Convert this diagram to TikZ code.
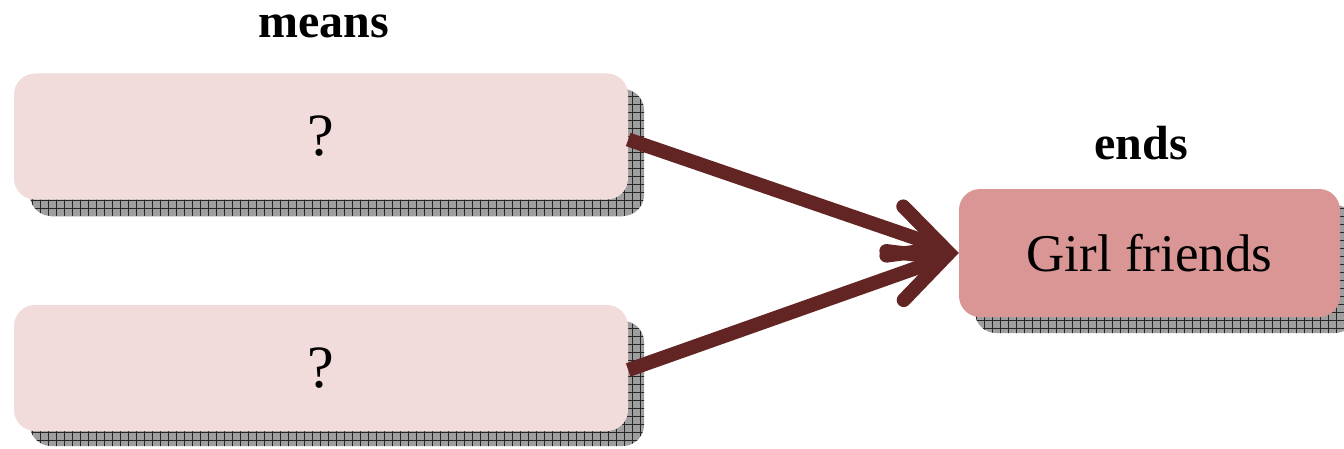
\documentclass[tikz,border=0pt]{standalone}
\usepackage{fontspec}
\setmainfont{Liberation Serif}
\usetikzlibrary{arrows.meta,patterns.meta}
\definecolor{pinklight}{HTML}{F2DCDB}
\definecolor{pinkdark}{HTML}{D99694}
\definecolor{arrowred}{HTML}{632523}
\tikzset{
  meansbox/.style={rectangle, rounded corners=21pt, fill=pinklight, minimum width=614pt, minimum height=126pt, inner sep=0pt, font=\fontsize{60}{66}\selectfont},
  endsbox/.style={rectangle, rounded corners=21pt, fill=pinkdark, minimum width=381pt, minimum height=128pt, inner sep=0pt, font=\fontsize{53}{60}\selectfont},
  shadowfill/.style={rounded corners=21pt, preaction={fill=black!38}, pattern={Hatch[angle=0,distance=8pt,line width=0.7pt]}, pattern color=black!85},
  headlabel/.style={font=\bfseries\fontsize{48}{54}\selectfont, anchor=base, inner sep=0pt},
  arr/.style={draw=arrowred, line width=14pt, -{Straight Barb[length=52pt, width=52pt, line cap=round, line join=miter]}}
}
\begin{document}
\begin{tikzpicture}[x=1pt,y=1pt]
\useasboundingbox (0,0) rectangle (1344,448);
% shadows
\path[shadowfill] (30,232) rectangle (644,359);
\path[shadowfill] (30,2) rectangle (644,127);
\path[shadowfill] (975,115) rectangle (1356,243);
% boxes
\node[meansbox] (m1) at (321,311.5) {?};
\node[meansbox] (m2) at (321,80) {?};
\node[endsbox] (gf) at (1149.5,195) {Girl friends};
% labels
\node[headlabel] (means) at (324,410) {means};
\node[headlabel] (ends) at (1141,288) {ends};
% arrows
\draw[arr] ([yshift=-3pt]m1.east) -- (gf.west);
\draw[arr] ([yshift=-2pt]m2.east) -- (gf.west);
\end{tikzpicture}
\end{document}
